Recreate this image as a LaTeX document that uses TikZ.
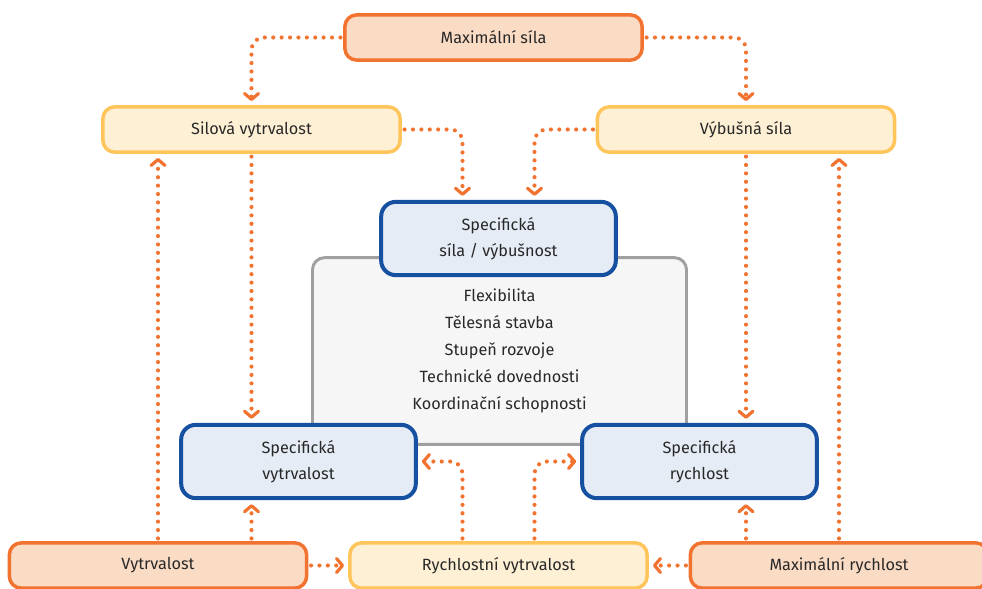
\documentclass[tikz,border=0pt]{standalone}
\usepackage{fontspec}
\setmainfont{Fira Sans}
\usetikzlibrary{arrows.meta}

\definecolor{vonal}{RGB}{242,114,48}
\definecolor{narancs}{RGB}{242,114,48}
\definecolor{narancsbg}{RGB}{250,219,196}
\definecolor{sarga}{RGB}{255,196,90}
\definecolor{sargabg}{RGB}{254,240,213}
\definecolor{kek}{RGB}{22,80,160}
\definecolor{kekbg}{RGB}{229,236,245}
\definecolor{szurke}{RGB}{160,160,160}
\definecolor{szurkebg}{RGB}{246,246,246}
\definecolor{szoveg}{RGB}{40,40,40}

\begin{document}
\begin{tikzpicture}[x=0.75pt,y=0.75pt,yscale=-1,xscale=1,
  every node/.style={text=szoveg,font=\fontsize{12.2}{19.5}\selectfont,align=center},
  alap/.style={draw=narancs,fill=narancsbg,line width=2.6pt,rounded corners=9pt,minimum width=223pt,minimum height=34pt},
  kozep/.style={draw=sarga,fill=sargabg,line width=2.6pt,rounded corners=9pt,minimum width=223pt,minimum height=34pt},
  spec/.style={draw=kek,fill=kekbg,line width=3pt,rounded corners=11pt,minimum width=176pt,minimum height=55pt},
  flow/.style={draw=vonal,line width=3.1pt,dash pattern=on 0pt off 6.3pt,line cap=round,rounded corners=9pt,
    -{Straight Barb[length=4.5pt,width=10.5pt,line width=2.4pt,round]},shorten <=2pt,shorten >=3pt}]

\useasboundingbox (0,0) rectangle (982,589);

%=====Doboz=======
\node [draw=szurke,fill=szurkebg,line width=2.2pt,rounded corners=9pt,minimum width=280.5pt,minimum height=140pt,
  font=\fontsize{12.2}{20.25}\selectfont] (obecne) at (499.5,351) {Flexibilita\\Tělesná stavba\\Stupeň rozvoje\\Technické dovednosti\\Koordinační schopnosti};

\node [alap] (maxsila) at (493.5,37.5) {Maximální síla};
\node [kozep] (silova) at (251.5,129.5) {Silová vytrvalost};
\node [kozep] (vybusna) at (746,129.5) {Výbušná síla};
\node [spec] (specsila) at (498.5,238.5) {Specifická\\síla / výbušnost};
\node [spec] (specvytr) at (298.5,461.5) {Specifická\\vytrvalost};
\node [spec] (specrych) at (699.5,461.5) {Specifická\\rychlost};
\node [alap] (vytr) at (158,565.5) {Vytrvalost};
\node [kozep] (rychvytr) at (498.5,565.5) {Rychlostní vytrvalost};
\node [alap] (maxrych) at (839,565.5) {Maximální rychlost};

%======Nyilak=========
\draw [flow] (maxsila.west) -| (silova.north);
\draw [flow] (maxsila.east) -| (vybusna.north);
\draw [flow] (silova.east) -| ([xshift=-27pt]specsila.north);
\draw [flow] (vybusna.west) -| ([xshift=27pt]specsila.north);
\draw [flow] (silova.south) -- (silova.south |- specvytr.north);
\draw [flow] (vybusna.south) -- (vybusna.south |- specrych.north);
\draw [flow] (vytr.north) -- (vytr.north |- silova.south);
\draw [flow] (vytr.north -| silova.south) -- (silova.south |- specvytr.south);
\draw [flow] (maxrych.north) -- (maxrych.north |- vybusna.south);
\draw [flow] (maxrych.north -| vybusna.south) -- (vybusna.south |- specrych.south);
\draw [flow] (vytr.east) -- (rychvytr.west);
\draw [flow] (maxrych.west) -- (rychvytr.east);
\draw [flow] ([xshift=-27pt]rychvytr.north) |- (specvytr.east);
\draw [flow] ([xshift=27pt]rychvytr.north) |- (specrych.west);

\end{tikzpicture}
\end{document}
